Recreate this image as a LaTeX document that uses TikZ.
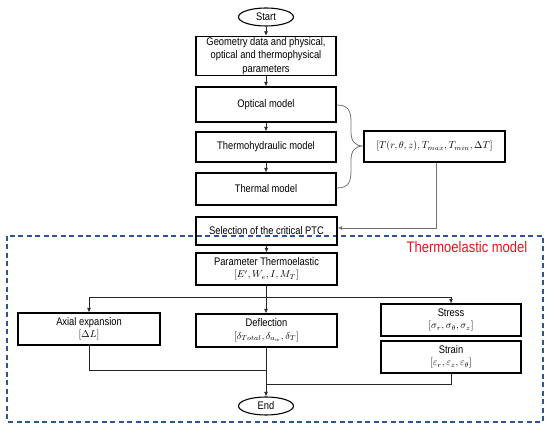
\documentclass[tikz,border=0pt]{standalone}
\usepackage{fontspec}
\setmainfont{Liberation Sans}[FakeStretch=0.85]
\usetikzlibrary{shapes.geometric,arrows.meta}
\definecolor{dashblue}{HTML}{2F5597}
\definecolor{thred}{HTML}{E8141B}
\newcommand{\mth}[1]{{\fontsize{9.7}{11}\selectfont$#1$}}
\begin{document}
\begin{tikzpicture}[x=1pt,y=-1pt,
  box/.style={draw=black,line width=1.1pt,minimum width=140pt,align=center,inner sep=1pt,font=\fontsize{11}{12.5}\selectfont},
  oval/.style={draw=black,line width=1.1pt,ellipse,minimum width=55pt,minimum height=18pt,inner sep=0pt,font=\fontsize{11}{12}\selectfont},
  flow/.style={draw=black!85,line width=0.8pt},
  arr/.style={flow,-{Latex[length=4.5pt,width=4pt]}},
  garr/.style={draw=black!55,line width=0.8pt,-{Latex[length=4.5pt,width=4pt]}}]
\useasboundingbox (0,0) rectangle (550,430);
% thermoelastic frame
\draw[dashblue,line width=1.1pt,dash pattern=on 5pt off 3.5pt] (7,236) rectangle (543,422);
\node[text=thred,font=\fontsize{15.3}{17}\selectfont,inner sep=0pt] (tlabel) at (467,247.5) {Thermoelastic model};
% nodes
\node[oval] (start) at (266,17) {Start};
\node[box,minimum height=38pt,font=\fontsize{11}{13.5}\selectfont] (geo) at (266,56) {Geometry data and physical,\\optical and thermophysical\\parameters};
\node[box,minimum height=35pt] (opt) at (266,104.5) {Optical model};
\node[box,minimum height=30pt] (hyd) at (266,147) {Thermohydraulic model};
\node[box,minimum height=32pt] (thm) at (266,189) {Thermal model};
\node[box,minimum height=31pt,minimum width=141pt,font=\fontsize{10.2}{12}\selectfont] (tbox) at (434.5,146.5) {$[T(r,\theta,z),T_{max},T_{min},\Delta T]$};
\node[box,minimum height=28pt,minimum width=141pt] (sel) at (266.5,231) {Selection of the critical PTC};
\node[box,minimum height=32pt,minimum width=141pt] (par) at (266.5,269) {Parameter Thermoelastic\\\mth{[E',W_e,I,M_T]}};
\node[box,minimum height=32pt,minimum width=142pt] (axi) at (89,329) {Axial expansion\\\mth{[\Delta L]}};
\node[box,minimum height=33pt,minimum width=141pt] (def) at (266.5,330.5) {Deflection\\\mth{[\delta_{Total},\delta_{a_w},\delta_T]}};
\node[box,minimum height=32pt] (str) at (451,320) {Stress\\\mth{[\sigma_r,\sigma_\theta,\sigma_z]}};
\node[box,minimum height=32pt] (stn) at (451,357) {Strain\\\mth{[\varepsilon_r,\varepsilon_z,\varepsilon_\theta]}};
\node[oval] (end) at (266,406) {End};
% main flow
\draw[arr] (start) -- (geo);
\draw[arr] (geo) -- (opt);
\draw[arr] (opt) -- (hyd);
\draw[arr] (hyd) -- (thm);
\draw[arr] (sel) -- (par);
\coordinate (br) at (266,297);
\draw[arr] (par.south -| br) -- (def.north -| br);
\draw[arr] (br) -| (axi.north);
\draw[arr] (br) -| (str.north);
% merge
\coordinate (m1) at (266,370);
\coordinate (m2) at (266,384);
\draw[flow] (axi.south) |- (m1);
\draw[flow] (stn.south) |- (m2);
\draw[arr] (def.south -| end) -- (end);
% brace
\coordinate (b1) at (337,105);
\coordinate (btip) at (363,146);
\coordinate (b2) at (337,188);
\draw[black!55,line width=0.8pt] (b1) .. controls (349,105) and (351,112) .. (351,122) -- (351,132)
  .. controls (351,141) and (355,146) .. (btip)
  .. controls (355,146) and (351,151) .. (351,160) -- (351,171)
  .. controls (351,181) and (349,188) .. (b2);
% feedback
\draw[garr] (tbox.south -| 436,0) |- ([yshift=3pt]sel.east);
\end{tikzpicture}
\end{document}
